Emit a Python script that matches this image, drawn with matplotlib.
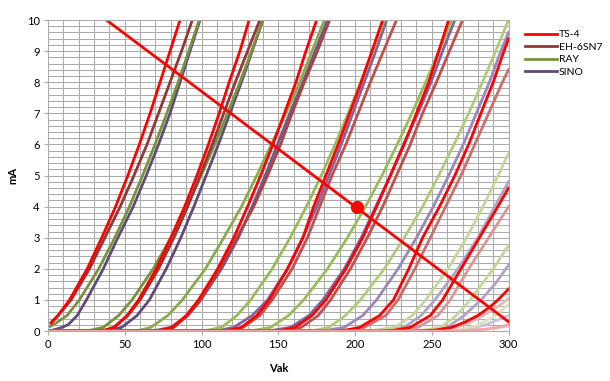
import matplotlib
matplotlib.use("Agg")
import matplotlib.pyplot as plt
from matplotlib.ticker import MultipleLocator

plt.rcParams['font.family'] = ['Lato', 'DejaVu Sans']

# plate curves, Vg = 0, -2, ... -16 V, (Vak list, mA list) per curve
ts4 = [
    ([2, 6.5, 14, 25.5, 35, 44, 52, 59.5, 66.5, 73, 79.5, 86],
     [0.25, 0.5, 1, 2, 3, 4, 5, 6, 7, 8, 9, 10]),
    ([0, 30, 37, 43, 51.5, 59, 70.5, 80, 89, 97, 104.5, 111.5, 118, 125, 131],
     [0, 0, 0.03, 0.12, 0.5, 1, 2, 3, 4, 5, 6, 7, 8, 9, 10]),
    ([0, 66, 74, 81, 90, 98, 110.5, 121, 130, 138.5, 146.5, 154, 161.5, 168, 175],
     [0, 0, 0.03, 0.12, 0.5, 1, 2, 3, 4, 5, 6, 7, 8, 9, 10]),
    ([0, 110, 118, 126, 136, 144, 156, 166, 173, 181, 189, 196.5, 204, 211, 218],
     [0, 0, 0.03, 0.12, 0.5, 1, 2, 3, 4, 5, 6, 7, 8, 9, 10]),
    ([0, 145, 153, 161, 172, 181, 194, 205, 214, 223, 232, 240, 248, 254.5, 261],
     [0, 0, 0.03, 0.12, 0.5, 1, 2, 3, 4, 5, 6, 7, 8, 9, 10]),
    ([0, 185, 194, 203, 216, 225, 235, 244, 255, 265, 274, 282, 290, 297, 300],
     [0, 0, 0.03, 0.12, 0.5, 1, 2, 3, 4, 5, 6, 7, 8, 9, 9.4]),
    ([0, 215, 226, 236, 249, 257, 269, 281, 293, 300],
     [0, 0, 0.03, 0.12, 0.5, 1, 2, 3, 4, 4.6]),
    ([0, 238, 252, 263, 272, 280, 288, 293, 300],
     [0, 0, 0.03, 0.12, 0.3, 0.5, 0.78, 1, 1.35]),
    ([0, 258, 272, 285, 293, 300],
     [0, 0, 0.02, 0.06, 0.12, 0.2]),
]

eh6sn7 = [
    ([2, 6.5, 15, 27, 37, 47, 56, 64.5, 72, 79.5, 87, 94],
     [0.28, 0.5, 1, 2, 3, 4, 5, 6, 7, 8, 9, 10]),
    ([0, 30, 37, 43, 52, 60, 72, 82, 91, 99, 107, 114.5, 122, 130, 138],
     [0, 0, 0.03, 0.12, 0.5, 1, 2, 3, 4, 5, 6, 7, 8, 9, 10]),
    ([0, 67, 75, 82, 91, 99.5, 112, 123, 134, 143, 151.5, 159, 167, 175.5, 183.5],
     [0, 0, 0.03, 0.12, 0.5, 1, 2, 3, 4, 5, 6, 7, 8, 9, 10]),
    ([0, 110, 119, 127, 138, 146, 159, 169, 177, 185, 194, 202, 210, 218.5, 227],
     [0, 0, 0.03, 0.12, 0.5, 1, 2, 3, 4, 5, 6, 7, 8, 9, 10]),
    ([0, 148, 156, 165, 176, 184, 197, 208, 218, 227, 236, 244, 253, 261.5, 270],
     [0, 0, 0.03, 0.12, 0.5, 1, 2, 3, 4, 5, 6, 7, 8, 9, 10]),
    ([0, 185, 195, 206, 220, 228, 239, 249, 259, 269, 278, 287, 296, 300],
     [0, 0, 0.03, 0.12, 0.5, 1, 2, 3, 4, 5, 6, 7, 8, 8.4]),
    ([0, 218, 230, 241, 254, 262, 274, 287, 300],
     [0, 0, 0.03, 0.12, 0.5, 1, 2, 3, 4]),
    ([0, 240, 255, 266, 276, 285, 294, 300],
     [0, 0, 0.03, 0.12, 0.3, 0.55, 0.82, 1.05]),
    ([0, 262, 278, 290, 300],
     [0, 0, 0.03, 0.08, 0.15]),
]

ray = [
    ([1.5, 5, 12.4, 20.4, 33, 43.5, 53, 61.6, 69.7, 77.4, 84.8, 91.7, 98.5],
     [0.15, 0.25, 0.5, 1, 2, 3, 4, 5, 6, 7, 8, 9, 10]),
    ([0, 20, 28, 36, 46, 54.7, 68.5, 80, 90.3, 99.8, 108.6, 117, 125, 132.6, 140],
     [0, 0, 0.03, 0.12, 0.5, 1, 2, 3, 4, 5, 6, 7, 8, 9, 10]),
    ([0, 52, 60, 67, 78, 87.5, 102.5, 114.5, 126, 136, 145.5, 155, 164, 172, 180],
     [0, 0, 0.03, 0.12, 0.5, 1, 2, 3, 4, 5, 6, 7, 8, 9, 10]),
    ([0, 96, 104, 113, 123, 132, 146, 157.7, 168.3, 178, 187, 195.5, 203.7, 211.5, 219],
     [0, 0, 0.03, 0.12, 0.5, 1, 2, 3, 4, 5, 6, 7, 8, 9, 10]),
    ([0, 126, 135, 145, 156.7, 166.5, 182, 195, 206.8, 217.5, 227.5, 237, 246, 254.6, 263],
     [0, 0, 0.03, 0.12, 0.5, 1, 2, 3, 4, 5, 6, 7, 8, 9, 10]),
    ([0, 165, 174, 183, 193.7, 203.5, 219, 232, 244, 254.5, 264.5, 274, 283, 291.6, 300],
     [0, 0, 0.03, 0.12, 0.5, 1, 2, 3, 4, 5, 6, 7, 8, 9, 10]),
    ([0, 200, 213, 226, 237.3, 246, 260.6, 272.6, 283.4, 293.2, 300],
     [0, 0, 0.03, 0.12, 0.5, 1, 2, 3, 4, 5, 5.72]),
    ([0, 228, 245, 256, 266, 275, 290, 300],
     [0, 0, 0.03, 0.12, 0.5, 1, 2, 2.76]),
    ([0, 250, 266, 278, 290, 300],
     [0, 0, 0.03, 0.15, 0.45, 0.85]),
]

sino = [
    ([3, 8, 13, 19, 25, 36, 45.5, 55.5, 64, 72, 79.5, 86, 92.5, 99],
     [0.03, 0.1, 0.2, 0.5, 1, 2, 3, 4, 5, 6, 7, 8, 9, 10]),
    ([0, 30, 40, 48, 58, 66, 77, 86.5, 95, 103, 111, 118.5, 126, 133, 140],
     [0, 0, 0.03, 0.12, 0.5, 1, 2, 3, 4, 5, 6, 7, 8, 9, 10]),
    ([0, 62, 71, 80, 91, 99.5, 113, 124, 133, 141.5, 149.5, 157.5, 166, 174, 182],
     [0, 0, 0.03, 0.12, 0.5, 1, 2, 3, 4, 5, 6, 7, 8, 9, 10]),
    ([0, 100, 112, 121, 133, 143, 156, 166, 175, 183, 191, 198.5, 206, 213.5, 220.6],
     [0, 0, 0.03, 0.12, 0.5, 1, 2, 3, 4, 5, 6, 7, 8, 9, 10]),
    ([0, 138, 147, 158, 170, 179, 193, 204, 213.5, 223, 231.5, 241, 249.5, 257, 265],
     [0, 0, 0.03, 0.12, 0.5, 1, 2, 3, 4, 5, 6, 7, 8, 9, 10]),
    ([0, 172, 182, 193, 205, 214, 228, 240, 251, 261, 270.5, 279, 287.5, 295, 300],
     [0, 0, 0.03, 0.12, 0.5, 1, 2, 3, 4, 5, 6, 7, 8, 9, 9.6]),
    ([0, 205, 220, 232, 243, 252, 267, 280, 291, 300],
     [0, 0, 0.03, 0.12, 0.5, 1, 2, 3, 4, 4.8]),
    ([0, 230, 248, 260, 271, 282, 291, 300],
     [0, 0, 0.03, 0.12, 0.5, 1, 1.5, 2.12]),
    ([0, 255, 272, 285, 300],
     [0, 0, 0.04, 0.2, 0.5]),
]

# load line and operating point
load_v = [38, 300]
load_i = [10, 0.3]
op_v, op_i = 201, 4

# colours fade with more negative grid voltage
ts4_col = ['#FF0000'] * 8 + ['#F2A6A6']
eh_col = ['#943634', '#953735', '#A94442', '#C0504D', '#C0504D',
          '#CC6E6B', '#D99694', '#E6B9B8', '#F2DCDB']
ray_col = ['#77933C', '#77933C', '#8AAA4B', '#9BBB59', '#9BBB59',
           '#B0CB7D', '#C3D69B', '#C3D69B', '#D7E4BD']
sino_col = ['#604A7B', '#604A7B', '#705790', '#8064A2', '#8064A2',
            '#9C88B9', '#B3A2C7', '#B3A2C7', '#CCC1DA']

fig = plt.figure(figsize=(6.1, 3.81), dpi=100)
ax = fig.add_axes([0.0787, 0.131, 0.755, 0.8165])

lw = 2.0
handles = {}
for name, curves, cols in [('SINO', sino, sino_col), ('RAY', ray, ray_col),
                           ('EH-6SN7', eh6sn7, eh_col), ('TS-4', ts4, ts4_col)]:
    for k, (v, i) in enumerate(curves):
        ln, = ax.plot(v, i, color=cols[k], lw=lw, solid_joinstyle='round')
        if k == 0:
            handles[name] = ln

ax.plot(load_v, load_i, color='#FF0000', lw=2.0)
ax.plot([op_v], [op_i], 'o', color='#FF0000', ms=8.5)

ax.set_xlim(0, 300)
ax.set_ylim(0, 10)
ax.xaxis.set_major_locator(MultipleLocator(50))
ax.xaxis.set_minor_locator(MultipleLocator(10))
ax.yaxis.set_major_locator(MultipleLocator(1))
ax.yaxis.set_minor_locator(MultipleLocator(0.2))
ax.grid(which='both', color='#ABABAB', lw=0.75)
ax.set_axisbelow(True)
for s in ax.spines.values():
    s.set_color('#ABABAB')
    s.set_linewidth(0.75)
ax.tick_params(which='major', length=3, color='#ABABAB', labelsize=8, pad=3)
ax.tick_params(which='minor', length=0)

ax.set_xlabel('Vak', fontsize=8, fontweight='bold', labelpad=9)
ax.set_ylabel('mA', fontsize=8, fontweight='bold', labelpad=6)

order = ['TS-4', 'EH-6SN7', 'RAY', 'SINO']
fig.legend([handles[n] for n in order], order, loc='upper left',
           bbox_to_anchor=(0.848, 0.94), frameon=False, fontsize=7.5,
           handlelength=3.1, handletextpad=0.2, labelspacing=0.3,
           borderaxespad=0.3)

fig.savefig('out.png', dpi=100)
